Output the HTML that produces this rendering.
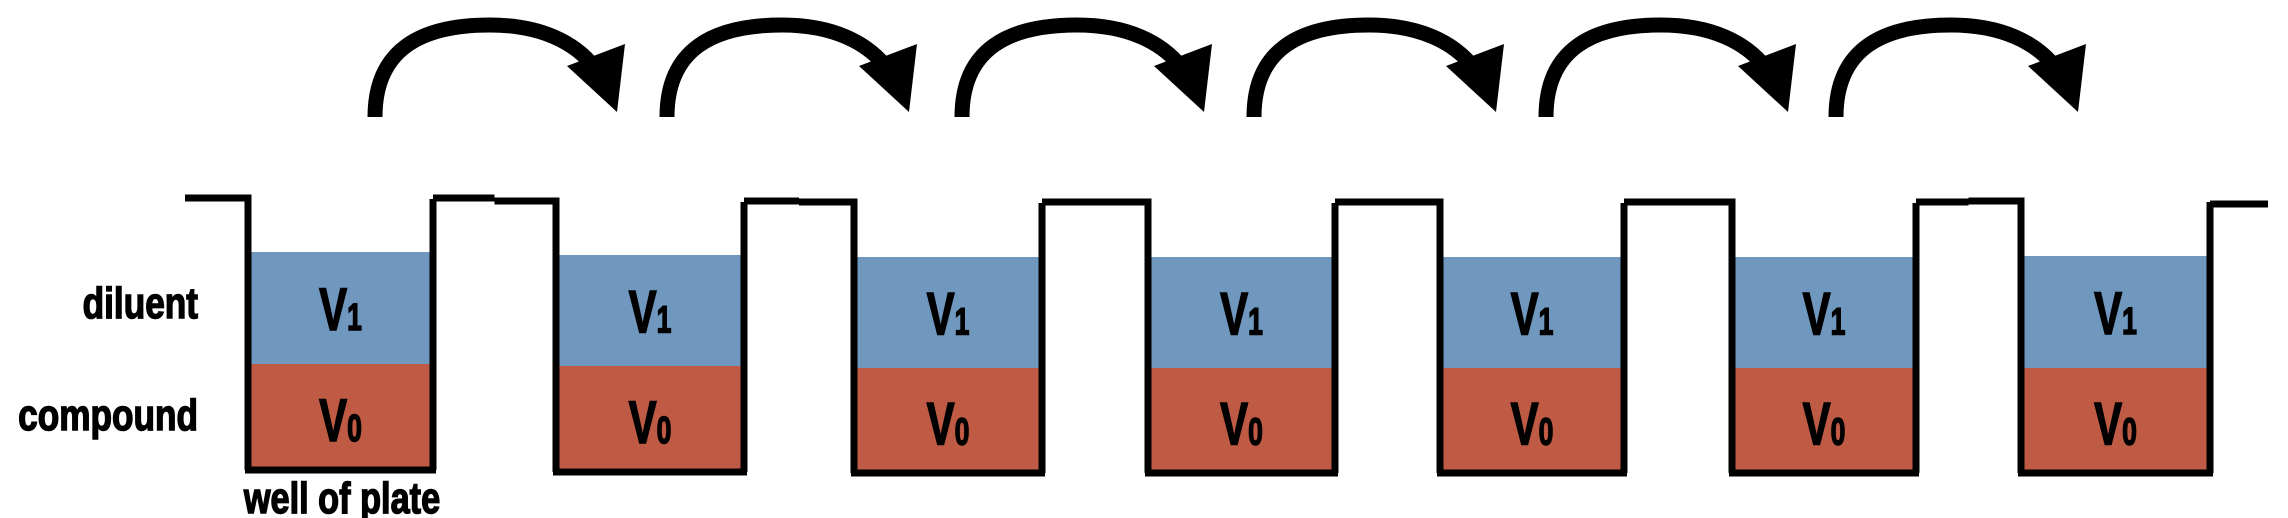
<!DOCTYPE html>
<html><head><meta charset="utf-8"><style>
html,body{margin:0;padding:0;background:#fff;width:2288px;height:518px;overflow:hidden}
svg{display:block}
text{font-family:"Liberation Sans",sans-serif;font-weight:bold;stroke:#000;stroke-width:1.5}
</style></head><body>
<svg id="chart" width="2288" height="518" viewBox="0 0 2288 518" xmlns="http://www.w3.org/2000/svg">
<text x="198" y="318" text-anchor="end" font-size="44" transform="translate(198,0) scale(0.8,1) translate(-198,0)">diluent</text>
<text x="198" y="430" text-anchor="end" font-size="44" transform="translate(198,0) scale(0.8,1) translate(-198,0)">compound</text>
<text x="342" y="513" text-anchor="middle" font-size="44" transform="translate(342,0) scale(0.78,1) translate(-342,0)">well of plate</text>
<g id="wells"></g>
<g id="arrows"></g>
</svg>
<script>
const wellLeft=[248,556,854,1148,1440,1732,2021];
const wellRight=[433,744,1042,1335,1624,1916,2210];
const diluentTop=[252,255,257,257,257,257,256];
const compoundTop=[364,366,368,368,368,368,368];
const wellBottom=[470,472,473,473,473,473,473];
const rimY=[198,201,202,202,202,202,201];
const arrowStart=[375,667,962,1254,1546,1836];
const NS="http://www.w3.org/2000/svg";
const wg=document.getElementById('wells');
const ag=document.getElementById('arrows');
function mk(t,a){const e=document.createElementNS(NS,t);for(const k in a)e.setAttribute(k,a[k]);return e;}
for(let i=0;i<wellLeft.length;i++){
  const L=wellLeft[i],R=wellRight[i];
  const b=mk('rect',{x:L,y:diluentTop[i],width:R-L,height:compoundTop[i]-diluentTop[i],fill:'#7098bf'});
  
  
  wg.appendChild(b);
  const r=mk('rect',{x:L,y:compoundTop[i],width:R-L,height:wellBottom[i]-compoundTop[i],fill:'#bf5b45'});
  
  
  wg.appendChild(r);
  const cx=(L+R)/2;
  const t1=mk('text',{x:cx,y:(diluentTop[i]+compoundTop[i])/2+22,'text-anchor':'middle','font-size':'60',fill:'#000',transform:`translate(${cx},0) scale(0.7,1) translate(${-cx},0)`});
  t1.innerHTML='V<tspan font-size="38">1</tspan>';
  
  
  wg.appendChild(t1);
  const t0=mk('text',{x:cx,y:(compoundTop[i]+wellBottom[i])/2+24,'text-anchor':'middle','font-size':'60',fill:'#000',transform:`translate(${cx},0) scale(0.7,1) translate(${-cx},0)`});
  t0.innerHTML='V<tspan font-size="38">0</tspan>';
  
  
  wg.appendChild(t0);
  const prevR=i===0?185:wellRight[i-1];
  const mid=(prevR+L)/2;
  const py=i===0?rimY[0]:rimY[i-1];
  const p=mk('path',{d:`M${prevR},${py} H${mid} M${mid},${rimY[i]} H${L} V${wellBottom[i]} M${L-3},${wellBottom[i]} H${R+3} M${R},${wellBottom[i]} V${rimY[i]+1}`,fill:'none',stroke:'#000','stroke-width':7});
  
  
  wg.appendChild(p);
}
const lastR=wellRight[wellRight.length-1];
const end=mk('path',{d:`M${lastR},${rimY[rimY.length-1]+3} H2268`,stroke:'#000','stroke-width':7,fill:'none'});


wg.appendChild(end);
for(let i=0;i<arrowStart.length;i++){
  const s=arrowStart[i];
  const g=mk('g',{});
  
  
  g.appendChild(mk('path',{d:`M${s},117 C${s},50 ${s+45},25 ${s+115},25 C${s+165},25 ${s+200},42 ${s+220},68`,fill:'none',stroke:'#000','stroke-width':15}));
  g.appendChild(mk('polygon',{points:`${s+192},66 ${s+250},44 ${s+242},112`,fill:'#000'}));
  ag.appendChild(g);
}
</script>
</body></html>
